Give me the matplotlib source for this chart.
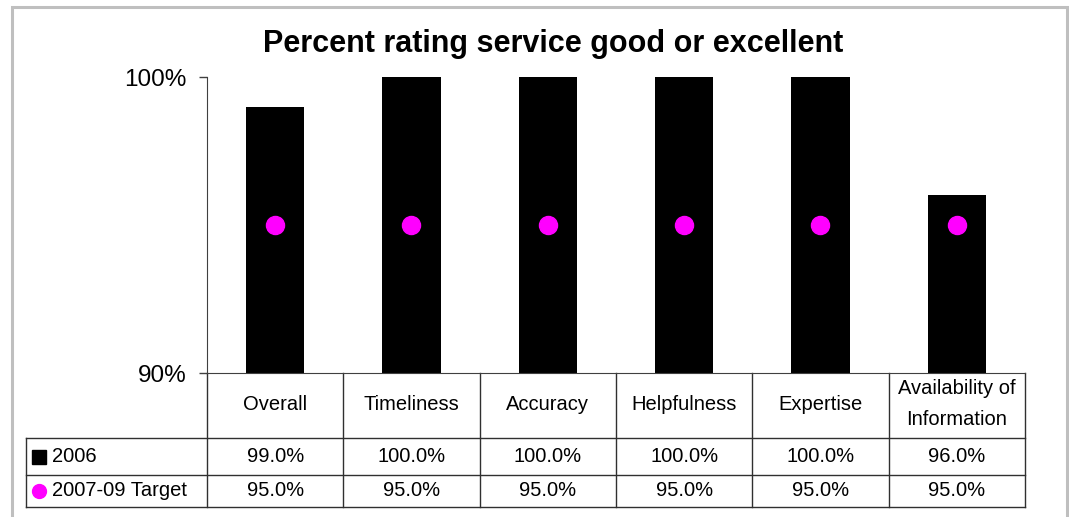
import numpy as np
import matplotlib
matplotlib.use("Agg")
import matplotlib.pyplot as plt
from matplotlib.lines import Line2D
from matplotlib.patches import Rectangle
import matplotlib.transforms as mtransforms

plt.rcParams["font.family"] = ["Liberation Sans", "DejaVu Sans"]

categories = ["Overall", "Timeliness", "Accuracy", "Helpfulness", "Expertise",
              "Availability of\nInformation"]
vals_2006 = [0.99, 1.00, 1.00, 1.00, 1.00, 0.96]
vals_target = [0.95, 0.95, 0.95, 0.95, 0.95, 0.95]
series_names = ["2006", "2007-09 Target"]

W, H = 1069, 517
fig = plt.figure(figsize=(W / 100, H / 100), dpi=100)

# outer chart frame (gray)
fig.patches.append(Rectangle((12 / W, -0.1), (1067 - 12) / W, (H - 7) / H + 0.1,
                             transform=fig.transFigure, fill=False,
                             ec="#bfbfbf", lw=2.2))

ax = fig.add_axes([207 / W, (H - 373) / H, (1025 - 207) / W, (373 - 77) / H])
x = np.arange(len(categories))
ax.bar(x, vals_2006, width=0.43, color="black", zorder=2)
ax.plot(x, vals_target, "o", ms=13, color="#ff00ff", mec="#ff00ff", zorder=3)

ax.set_xlim(-0.5, len(categories) - 0.5)
ax.set_ylim(0.90, 1.00)
ax.set_yticks([0.90, 1.00])
ax.set_yticklabels(["90%", "100%"], fontsize=17.5)
ax.tick_params(axis="y", length=6, width=1, color="#404040", pad=9)
ax.set_xticks([])
for s in ["top", "right"]:
    ax.spines[s].set_visible(False)
ax.spines["left"].set_color("#404040")
ax.spines["bottom"].set_color("#404040")

fig.text(553 / W, 1 - 44 / H, "Percent rating service good or excellent",
         ha="center", va="center", fontsize=22, fontweight="bold")

# data table below the axis
tr = mtransforms.blended_transform_factory(ax.transData, ax.transAxes)
ah = 373 - 77
def ay(py):
    return (373 - py) / ah

y_hdr, y_r1, y_r2 = ay(438), ay(475), ay(507)
lc = "#303030"
n = len(categories)
left = -0.5 - (207 - 26) / ((1025 - 207) / n)
fs = 14.5

lines = []
for b in np.arange(n + 1) - 0.5:
    lines.append(([b, b], [0, y_r2]))
lines.append(([left, left], [y_hdr, y_r2]))
for yy in [y_hdr, y_r1, y_r2]:
    lines.append(([left, n - 0.5], [yy, yy]))
for xs, ys in lines:
    ax.add_line(Line2D(xs, ys, transform=tr, color=lc, lw=1, clip_on=False))

for i, c in enumerate(categories):
    ax.text(i, (0 + y_hdr) / 2 + 0.005, c, transform=tr, ha="center", va="center",
            fontsize=fs, linespacing=1.75)
    ax.text(i, (y_hdr + y_r1) / 2, f"{vals_2006[i]*100:.1f}%", transform=tr,
            ha="center", va="center", fontsize=fs)
    ax.text(i, (y_r1 + y_r2) / 2, f"{vals_target[i]*100:.1f}%", transform=tr,
            ha="center", va="center", fontsize=fs)

mx = left + 0.095
ax.plot([mx], [(y_hdr + y_r1) / 2], "s", ms=9.5, color="black", transform=tr,
        clip_on=False)
ax.plot([mx], [(y_r1 + y_r2) / 2], "o", ms=10, color="#ff00ff", transform=tr,
        clip_on=False)
ax.text(left + 0.19, (y_hdr + y_r1) / 2, series_names[0], transform=tr,
        ha="left", va="center", fontsize=fs)
ax.text(left + 0.19, (y_r1 + y_r2) / 2, series_names[1], transform=tr,
        ha="left", va="center", fontsize=fs)

fig.savefig("out.png", dpi=100)
